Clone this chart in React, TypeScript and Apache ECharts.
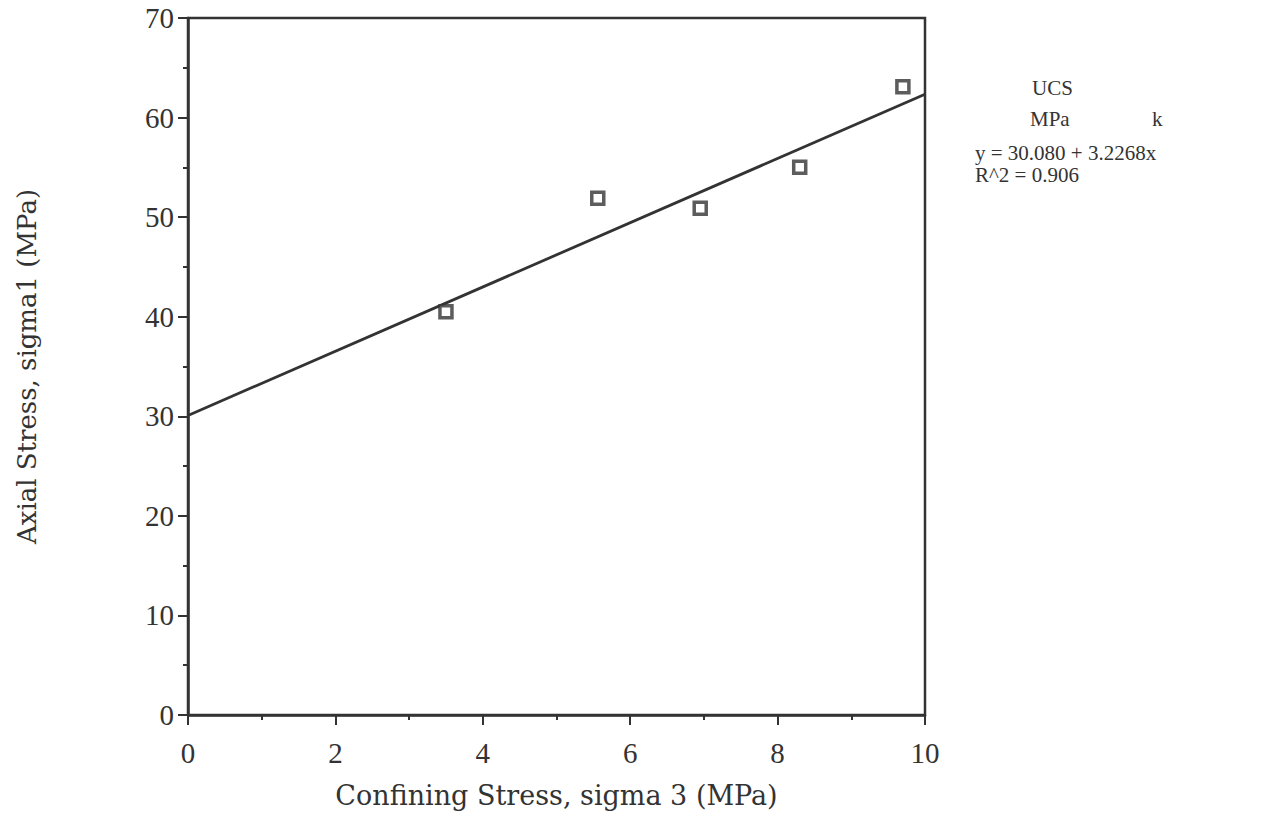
import React, { useEffect, useRef } from "react";
import * as echarts from "echarts";

const confiningStress = [3.5, 5.56, 6.95, 8.3, 9.7];
const axialStress = [40.5, 51.9, 50.9, 55.0, 63.1];
const fitIntercept = 30.08;
const fitSlope = 3.2268;
const fitRange = [0, 10];
const xTitle = "Confining Stress, sigma 3 (MPa)";
const yTitle = "Axial Stress, sigma1 (MPa)";
const noteLines = ["y = 30.080 + 3.2268x", "R^2 = 0.906"];

const INK = "#333333";
const FONT = "'Liberation Serif', serif";
const WIDE = "'DejaVu Serif', serif";

export default function App() {
  const ref = useRef<HTMLDivElement>(null);
  useEffect(() => {
    if (!ref.current) return;
    const chart = echarts.init(ref.current, undefined, { renderer: "svg" });
    const points = confiningStress.map((x, i) => [x, axialStress[i]]);
    const fit = fitRange.map((x) => [x, fitIntercept + fitSlope * x]);
    chart.setOption({
      animation: false,
      backgroundColor: "#ffffff",
      grid: {
        left: 188,
        right: 345,
        top: 18,
        bottom: 120,
        show: true,
        borderColor: INK,
        borderWidth: 2.5,
      },
      xAxis: {
        type: "value",
        min: 0,
        max: 10,
        interval: 2,
        name: xTitle,
        nameLocation: "middle",
        nameGap: 67,
        nameTextStyle: { fontFamily: WIDE, fontSize: 27, color: INK },
        axisLine: { show: true, lineStyle: { color: INK, width: 2.5 } },
        axisTick: { show: true, inside: false, length: 10, lineStyle: { color: INK, width: 2 } },
        minorTick: { show: true, splitNumber: 2, length: 5, lineStyle: { color: INK, width: 2 } },
        axisLabel: { fontFamily: FONT, fontSize: 29, color: INK, margin: 23 },
        splitLine: { show: false },
      },
      yAxis: {
        type: "value",
        min: 0,
        max: 70,
        interval: 10,
        name: yTitle,
        nameLocation: "middle",
        nameGap: 148,
        nameTextStyle: { fontFamily: WIDE, fontSize: 26, color: INK },
        axisLine: { show: true, lineStyle: { color: INK, width: 2.5 } },
        axisTick: { show: true, inside: false, length: 10, lineStyle: { color: INK, width: 2 } },
        minorTick: { show: true, splitNumber: 2, length: 5, lineStyle: { color: INK, width: 2 } },
        axisLabel: { fontFamily: FONT, fontSize: 29, color: INK, margin: 14 },
        splitLine: { show: false },
      },
      series: [
        {
          type: "line",
          data: fit,
          showSymbol: false,
          symbol: "none",
          lineStyle: { color: INK, width: 2.8 },
          z: 2,
        },
        {
          type: "scatter",
          data: points,
          symbol: "rect",
          symbolSize: 12,
          itemStyle: { color: "#ffffff", borderColor: INK, borderWidth: 3.5 },
          z: 3,
        },
      ],
      graphic: [
        {
          type: "text",
          left: 1032,
          top: 77,
          style: { text: "UCS", font: `21px ${FONT}`, fill: INK },
        },
        {
          type: "text",
          left: 1030,
          top: 108,
          style: { text: "MPa", font: `21px ${FONT}`, fill: INK },
        },
        {
          type: "text",
          left: 1152,
          top: 108,
          style: { text: "k", font: `21px ${FONT}`, fill: INK },
        },
        {
          type: "text",
          left: 975,
          top: 142,
          style: { text: noteLines[0], font: `21px ${FONT}`, fill: INK },
        },
        {
          type: "text",
          left: 975,
          top: 164,
          style: { text: noteLines[1], font: `21px ${FONT}`, fill: INK },
        },
      ],
    });
    return () => chart.dispose();
  }, []);
  return (
    <div
      ref={ref}
      style={{ position: "absolute", left: 0, top: 0, width: 1270, height: 835 }}
    />
  );
}
